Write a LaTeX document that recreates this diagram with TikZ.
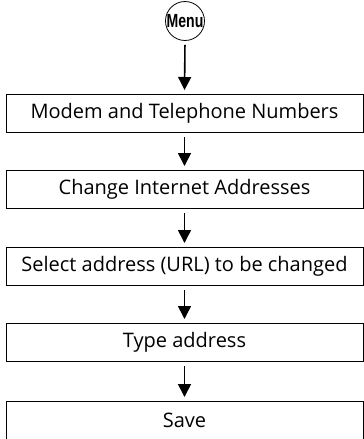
\documentclass[tikz,border=0pt]{standalone}
\usepackage{fontspec}
\setmainfont{Open Sans}
\newfontfamily\menufont[FakeStretch=0.74]{Liberation Sans}
\usetikzlibrary{arrows.meta}
\tikzset{
  stepbox/.style={draw=black, line width=1pt, minimum width=357pt, minimum height=38pt, inner sep=0pt, font=\fontsize{20}{24}\selectfont, anchor=north},
  flow/.style={draw=black, line width=1.6pt, -{Triangle[width=13pt,length=13pt]}, shorten <=4pt, shorten >=4pt},
  menucircle/.style={draw=black, line width=0.8pt, circle, minimum size=37pt, inner sep=0pt, font=\menufont\bfseries\fontsize{19}{22}\selectfont}
}
\begin{document}
\begin{tikzpicture}[x=1pt,y=-1pt]
\useasboundingbox (0,0) rectangle (364,439);
\node[menucircle] (menu) at (185,21) {Menu};
\node[stepbox] (b1) at (184.5,94) {Modem and Telephone Numbers};
\node[stepbox] (b2) at (184.5,170) {Change Internet Addresses};
\node[stepbox] (b3) at (184.5,247) {Select address (URL) to be changed};
\node[stepbox] (b4) at (184.5,323) {Type address};
\node[stepbox] (b5) at (184.5,401) {Save};
\draw[flow] (menu.south) -- (b1.north);
\draw[flow] (b1.south) -- (b2.north);
\draw[flow] (b2.south) -- (b3.north);
\draw[flow] (b3.south) -- (b4.north);
\draw[flow] (b4.south) -- (b5.north);
\end{tikzpicture}
\end{document}
